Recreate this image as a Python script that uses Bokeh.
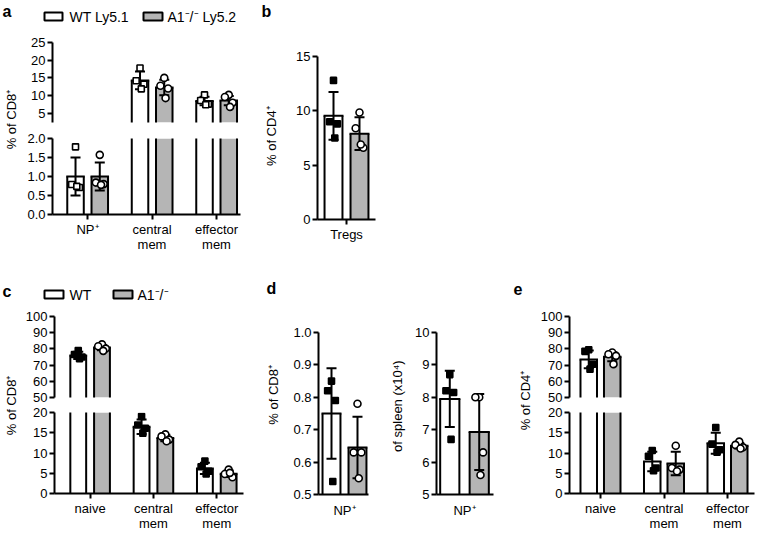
from math import pi
from bokeh.plotting import figure
from bokeh.layouts import row, column
from bokeh.models import Range1d, FixedTicker, PrintfTickFormatter, Spacer
from bokeh.embed import file_html
from bokeh.resources import INLINE
from bokeh.core.properties import value

# ------------------------------------------------------------------ data
GROUPS = ["WT", "A1⁻/⁻"]

# panel a  (% of CD8+, WT Ly5.1 vs A1-/- Ly5.2)
A_CATS = ["NP⁺", "central\nmem", "effector\nmem"]
A_WT_MEAN = [1.0, 14.3, 8.5]
A_WT_SD = [0.5, 2.5, 1.2]
A_WT_PTS = [[1.78, 0.79, 0.71, 0.74], [17.8, 14.2, 13.2, 11.9], [10.2, 8.6, 7.6, 7.4]]
A_KO_MEAN = [1.0, 12.3, 8.6]
A_KO_SD = [0.37, 2.2, 1.3]
A_KO_PTS = [[1.57, 0.84, 0.80, 0.78], [15.0, 12.8, 12.0, 9.3], [10.2, 9.6, 8.0, 6.8]]

# panel b  (% of CD4+)
B_CATS = ["Tregs"]
B_WT_MEAN = [9.54]
B_WT_SD = [2.2]
B_WT_PTS = [[12.8, 9.0, 8.8, 7.5]]
B_KO_MEAN = [7.9]
B_KO_SD = [1.5]
B_KO_PTS = [[9.85, 8.4, 6.6, 6.9]]

# panel c  (% of CD8+)
C_CATS = ["naive", "central\nmem", "effector\nmem"]
C_WT_MEAN = [76.0, 16.5, 6.2]
C_WT_SD = [2.2, 1.8, 1.4]
C_WT_PTS = [[79.0, 76.5, 75.0, 74.0], [19.0, 16.9, 16.1, 14.9], [8.0, 6.6, 5.5, 4.8]]
C_KO_MEAN = [80.8, 13.7, 4.9]
C_KO_SD = [1.6, 0.8, 0.8]
C_KO_PTS = [[82.8, 81.6, 80.2, 78.8], [14.6, 14.1, 13.3, 12.9], [5.9, 4.8, 4.0, 5.1]]

# panel d  (% of CD8+ and number of spleen x10^4)
D_CATS = ["NP⁺"]
D1_WT_MEAN = [0.75]
D1_WT_SD = [0.14]
D1_WT_PTS = [[0.85, 0.82, 0.79, 0.54]]
D1_KO_MEAN = [0.645]
D1_KO_SD = [0.095]
D1_KO_PTS = [[0.78, 0.63, 0.63, 0.55]]
D2_WT_MEAN = [7.95]
D2_WT_SD = [0.87]
D2_WT_PTS = [[8.7, 8.2, 8.15, 6.7]]
D2_KO_MEAN = [6.93]
D2_KO_SD = [1.17]
D2_KO_PTS = [[8.0, 8.0, 6.3, 5.6]]

# panel e  (% of CD4+)
E_CATS = ["naive", "central\nmem", "effector\nmem"]
E_WT_MEAN = [73.5, 7.9, 12.4]
E_WT_SD = [5.5, 2.4, 2.6]
E_WT_PTS = [[79.5, 78.5, 70.5, 67.5], [10.6, 9.2, 6.3, 5.6], [16.3, 12.2, 10.8, 10.2]]
E_KO_MEAN = [75.2, 7.4, 11.8]
E_KO_SD = [2.8, 2.9, 0.7]
E_KO_PTS = [[77.8, 76.7, 75.7, 70.6], [11.8, 6.3, 5.9, 5.5], [12.8, 12.0, 11.4, 11.1]]

# ------------------------------------------------------------------ style
FONT = "Liberation Sans"
TICK_FS = "13px"
GREY = "#b5b5b5"
JITTER = [0.0, -0.06, 0.06, 0.02]


def style_axis(ax, ticks=None, fmt=None, overrides=None, tick_out=5, standoff=2):
    if ticks is not None:
        ax.ticker = FixedTicker(ticks=ticks)
    ax.axis_line_width = 2
    ax.axis_line_color = "black"
    ax.major_tick_line_width = 2
    ax.major_tick_line_color = "black"
    ax.major_tick_out = tick_out
    ax.major_tick_in = 0
    ax.minor_tick_out = 0
    ax.minor_tick_in = 0
    ax.major_label_text_font = FONT
    ax.major_label_text_font_size = TICK_FS
    ax.major_label_text_color = "black"
    ax.major_label_standoff = standoff
    ax.major_label_text_line_height = 1.05
    if fmt:
        ax.formatter = PrintfTickFormatter(format=fmt)
    if overrides:
        ax.major_label_overrides = overrides


def make_fig(width, height, xr, yr, borders, xaxis=True, yaxis=True):
    left, right, top, bottom = borders
    p = figure(width=width, height=height, x_range=Range1d(*xr), y_range=Range1d(*yr),
               output_backend="svg", toolbar_location=None,
               x_axis_location="below" if xaxis else None,
               y_axis_location="left" if yaxis else None,
               min_border_left=left, min_border_right=right,
               min_border_top=top, min_border_bottom=bottom)
    p.grid.visible = False
    p.outline_line_color = None
    p.background_fill_color = "white"
    p.border_fill_color = "white"
    return p


def draw(p, means, sds, pts, offsets, width, wt_marker, wt_mfill, cap=10, msize=6):
    """Draw both groups; only items reaching into the figure's y range are drawn.
    Bars are filled without outline; their sides and tops are drawn as segments so
    that a bar cut by the axis break stays open at the break."""
    ylo, yhi = p.y_range.start, p.y_range.end
    groups = [(means[0], sds[0], pts[0], "white", wt_marker, wt_mfill),
              (means[1], sds[1], pts[1], GREY, "circle", "white")]
    for g, (mn, sd, pp, fill, mk, mfill) in enumerate(groups):
        keep = [i for i in range(len(mn)) if mn[i] > ylo]
        if not keep:
            continue
        xs = [i + offsets[g] for i in keep]
        tops = [mn[i] for i in keep]
        bot = [min(0, ylo)] * len(keep)
        p.vbar(x=xs, top=tops, bottom=bot, width=width, fill_color=fill, line_color=None)
        # sides
        xl = [x - width / 2 for x in xs]
        xr = [x + width / 2 for x in xs]
        p.segment(x0=xl + xr, y0=bot + bot, x1=xl + xr, y1=tops + tops,
                  line_color="black", line_width=2)
        # tops (only where they fall inside the range)
        tk = [k for k in range(len(keep)) if tops[k] <= yhi]
        if tk:
            p.segment(x0=[xl[k] for k in tk], y0=[tops[k] for k in tk],
                      x1=[xr[k] for k in tk], y1=[tops[k] for k in tk],
                      line_color="black", line_width=2, line_cap="square")
        # error bars
        lo = [mn[i] - sd[i] for i in keep]
        hi = [mn[i] + sd[i] for i in keep]
        p.segment(x0=xs, y0=lo, x1=xs, y1=hi, line_color="black", line_width=2)
        cx = [x for x, v in zip(xs + xs, lo + hi) if ylo < v < yhi]
        cy = [v for v in lo + hi if ylo < v < yhi]
        p.scatter(x=cx, y=cy, marker="dash", size=cap, line_color="black", line_width=2)
        # individual values
        px, py = [], []
        for k, i in enumerate(keep):
            for j, v in enumerate(pp[i]):
                if ylo < v < yhi:
                    px.append(xs[k] + JITTER[j % len(JITTER)])
                    py.append(v)
        p.scatter(x=px, y=py, marker=mk, size=msize + (1 if mk == "circle" else 0),
                  fill_color=mfill, line_color="black", line_width=1.6)


def cat_overrides(cats):
    return {i: c for i, c in enumerate(cats)}


def header(height, y0, texts, boxes):
    p = make_fig(759, height, (0, 759), (y0 + height, y0), (0, 0, 0, 0), xaxis=False, yaxis=False)
    p.min_border = 0
    for (x, y, t, fs, bold) in texts:
        p.text(x=[x], y=[y], text=[t], text_font=value(FONT), text_font_size=fs,
               text_font_style="bold" if bold else "normal",
               text_baseline="middle", text_align="left", text_color="black")
    for (l, r, t, b, col) in boxes:
        p.quad(left=[l], right=[r], top=[t], bottom=[b], fill_color=col,
               line_color="black", line_width=2)
    return p


def ylabel(width, height, cy, text):
    p = make_fig(width, height, (0, width), (0, height), (0, 0, 0, 0), xaxis=False, yaxis=False)
    p.min_border = 0
    p.text(x=[width / 2], y=[height - cy], text=[text], angle=pi / 2,
           text_font=value(FONT), text_font_size="13px", text_align="center",
           text_baseline="middle", text_color="black")
    return p


# ------------------------------------------------------------------ row 1
hdr1 = header(30, 0,
              [(2, 11, "a", "16px", True), (261, 11, "b", "16px", True),
               (69, 16, "WT Ly5.1", "14px", False), (167, 16, "A1⁻/⁻ Ly5.2", "14px", False)],
              [(44, 62, 12, 20, "white"), (143, 162, 12, 20, GREY)])

AX = (-0.543, 2.372)
a_top = make_fig(240, 100, AX, (2.4, 25), (30, 22, 12, 8), xaxis=False)
style_axis(a_top.yaxis[0], ticks=[5, 10, 15, 20, 25])
draw(a_top, [A_WT_MEAN, A_KO_MEAN], [A_WT_SD, A_KO_SD], [A_WT_PTS, A_KO_PTS],
     (-0.186, 0.19), 0.256, "square", "white")
a_bot = make_fig(240, 125, AX, (0, 2.0), (30, 22, 8, 36))
style_axis(a_bot.yaxis[0], ticks=[0, 0.5, 1.0, 1.5, 2.0], fmt="%.1f")
style_axis(a_bot.xaxis[0], ticks=list(range(len(A_CATS))), overrides=cat_overrides(A_CATS))
draw(a_bot, [A_WT_MEAN, A_KO_MEAN], [A_WT_SD, A_KO_SD], [A_WT_PTS, A_KO_PTS],
     (-0.186, 0.19), 0.256, "square", "white")

b_fig = make_fig(110, 225, (-0.453, 0.453), (0, 15), (37, 15, 26, 36))
style_axis(b_fig.yaxis[0], ticks=[0, 5, 10, 15])
style_axis(b_fig.xaxis[0], ticks=[0], overrides=cat_overrides(B_CATS))
draw(b_fig, [B_WT_MEAN, B_KO_MEAN], [B_WT_SD, B_KO_SD], [B_WT_PTS, B_KO_PTS],
     (-0.203, 0.203), 0.28, "square", "black")

row1 = row(ylabel(22, 225, 87, "% of CD8⁺"), column(a_top, a_bot),
           ylabel(18, 225, 110, "% of CD4⁺"), b_fig, Spacer(width=369, height=225))

# ------------------------------------------------------------------ row 2
H2 = 231
hdr2 = header(48, 255,
              [(2, 291, "c", "16px", True), (266, 288, "d", "16px", True),
               (513, 288, "e", "16px", True),
               (69, 294, "WT", "14px", False), (137, 294, "A1⁻/⁻", "14px", False)],
              [(44, 63, 290, 298, "white"), (113, 132, 290, 298, GREY)])

CX = (-0.5625, 2.422)
c_top = make_fig(240, 102, CX, (50, 100), (30, 19, 13, 8), xaxis=False)
style_axis(c_top.yaxis[0], ticks=[50, 60, 70, 80, 90, 100])
draw(c_top, [C_WT_MEAN, C_KO_MEAN], [C_WT_SD, C_KO_SD], [C_WT_PTS, C_KO_PTS],
     (-0.1875, 0.1875), 0.25, "square", "black")
c_bot = make_fig(240, H2 - 102, CX, (0, 20), (30, 19, 7, 40))
style_axis(c_bot.yaxis[0], ticks=[0, 5, 10, 15, 20])
style_axis(c_bot.xaxis[0], ticks=list(range(len(C_CATS))), overrides=cat_overrides(C_CATS))
draw(c_bot, [C_WT_MEAN, C_KO_MEAN], [C_WT_SD, C_KO_SD], [C_WT_PTS, C_KO_PTS],
     (-0.1875, 0.1875), 0.25, "square", "black")

d1 = make_fig(104, H2, (-0.406, 0.375), (0.5, 1.0), (34, 20, 29, 40))
style_axis(d1.yaxis[0], ticks=[0.5, 0.6, 0.7, 0.8, 0.9, 1.0], fmt="%.1f")
style_axis(d1.xaxis[0], ticks=[0], overrides=cat_overrides(D_CATS), tick_out=0, standoff=8)
draw(d1, [D1_WT_MEAN, D1_KO_MEAN], [D1_WT_SD, D1_KO_SD], [D1_WT_PTS, D1_KO_PTS],
     (-0.203, 0.203), 0.28, "square", "black")

d2 = make_fig(94, H2, (-0.4375, 0.453), (5, 10), (30, 7, 29, 40))
style_axis(d2.yaxis[0], ticks=[5, 6, 7, 8, 9, 10])
style_axis(d2.xaxis[0], ticks=[0], overrides=cat_overrides(D_CATS), tick_out=0, standoff=8)
draw(d2, [D2_WT_MEAN, D2_KO_MEAN], [D2_WT_SD, D2_KO_SD], [D2_WT_PTS, D2_KO_PTS],
     (-0.23, 0.23), 0.30, "square", "black")

EX = (-0.488, 2.425)
e_top = make_fig(223, 102, EX, (50, 100), (33, 5, 13, 8), xaxis=False)
style_axis(e_top.yaxis[0], ticks=[50, 60, 70, 80, 90, 100])
draw(e_top, [E_WT_MEAN, E_KO_MEAN], [E_WT_SD, E_KO_SD], [E_WT_PTS, E_KO_PTS],
     (-0.185, 0.185), 0.26, "square", "black")
e_bot = make_fig(223, H2 - 102, EX, (0, 20), (33, 5, 7, 40))
style_axis(e_bot.yaxis[0], ticks=[0, 5, 10, 15, 20])
style_axis(e_bot.xaxis[0], ticks=list(range(len(E_CATS))), overrides=cat_overrides(E_CATS))
draw(e_bot, [E_WT_MEAN, E_KO_MEAN], [E_WT_SD, E_KO_SD], [E_WT_PTS, E_KO_PTS],
     (-0.185, 0.185), 0.26, "square", "black")

row2 = row(ylabel(22, H2, 104, "% of CD8⁺"), column(c_top, c_bot),
           ylabel(22, H2, 89, "% of CD8⁺"), d1,
           ylabel(18, H2, 105, "of spleen (x10⁴)"), d2,
           Spacer(width=14, height=H2),
           ylabel(22, H2, 97, "% of CD4⁺"), column(e_top, e_bot))

page = column(hdr1, row1, hdr2, row2)

open("out.html", "w").write(file_html(page, INLINE))
